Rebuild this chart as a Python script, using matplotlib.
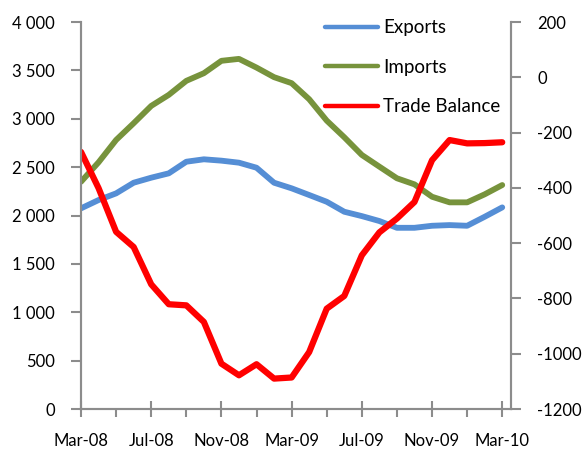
import numpy as np
import matplotlib
matplotlib.use('Agg')
import matplotlib.pyplot as plt
from matplotlib.ticker import FixedLocator, FixedFormatter

plt.rcParams['font.family'] = ['Lato', 'DejaVu Sans']

# monthly data Mar-08 .. Mar-10
months = ['Mar-08', 'Apr-08', 'May-08', 'Jun-08', 'Jul-08', 'Aug-08', 'Sep-08', 'Oct-08',
          'Nov-08', 'Dec-08', 'Jan-09', 'Feb-09', 'Mar-09', 'Apr-09', 'May-09', 'Jun-09',
          'Jul-09', 'Aug-09', 'Sep-09', 'Oct-09', 'Nov-09', 'Dec-09', 'Jan-10', 'Feb-10', 'Mar-10']
exports = [2074, 2160, 2229, 2339, 2391, 2436, 2556, 2581, 2567, 2546, 2494, 2339, 2281,
           2212, 2142, 2039, 1994, 1943, 1873, 1873, 1894, 1901, 1894, 1987, 2084]
imports = [2349, 2550, 2781, 2954, 3133, 3247, 3392, 3471, 3599, 3619, 3529, 3430, 3368,
           3202, 2981, 2809, 2626, 2505, 2385, 2322, 2194, 2136, 2136, 2219, 2315]
balance = [-270, -401, -559, -614, -749, -821, -825, -885, -1036, -1078, -1038, -1090, -1086,
           -994, -837, -791, -644, -561, -511, -451, -300, -227, -239, -238, -235]

left_ticks = [0, 500, 1000, 1500, 2000, 2500, 3000, 3500, 4000]
left_labels = ['0', '500', '1 000', '1 500', '2 000', '2 500', '3 000', '3 500', '4 000']
right_ticks = [-1200, -1000, -800, -600, -400, -200, 0, 200]

x = np.arange(len(months))
grey = '#8c8c8c'

fig = plt.figure(figsize=(5.85, 4.54), dpi=100)
ax = fig.add_axes([0.1385, 0.0991, 0.735, 0.8524])
ax2 = ax.twinx()

l1, = ax.plot(x, exports, color='#558ED5', lw=4.2, label='Exports', solid_capstyle='round')
l2, = ax.plot(x, imports, color='#77933C', lw=4.2, label='Imports', solid_capstyle='round')
l3, = ax2.plot(x, balance, color='#FF0000', lw=4.5, label='Trade Balance', solid_capstyle='round')

ax.set_xlim(0, 24.5)
ax.set_ylim(0, 4000)
ax2.set_ylim(-1200, 200)

ax.yaxis.set_major_locator(FixedLocator(left_ticks))
ax.yaxis.set_major_formatter(FixedFormatter(left_labels))
ax2.set_yticks(right_ticks)
ax2.set_yticklabels([str(v) for v in right_ticks])

major = list(range(0, 25, 4))
ax.set_xticks(major)
ax.set_xticklabels([months[i] for i in major])
ax.set_xticks(list(range(2, 24, 4)), minor=True)

for a in (ax, ax2):
    a.spines['top'].set_visible(False)
    for s in ('left', 'right', 'bottom'):
        a.spines[s].set_color(grey)
        a.spines[s].set_linewidth(1.5)
    a.tick_params(colors=grey, labelcolor='black', labelsize=12, width=1.5)

ax.tick_params(axis='y', length=7, pad=12)
ax2.tick_params(axis='y', length=7, pad=12)
ax.tick_params(axis='x', which='major', direction='inout', length=12, pad=11)
ax.tick_params(axis='x', which='minor', direction='out', length=6, width=1.5, colors=grey)

leg = ax2.legend(handles=[l1, l2, l3], loc='upper left', bbox_to_anchor=(0.5556, 0.958),
                 bbox_transform=fig.transFigure, frameon=False, fontsize=13.5,
                 handlelength=2.8, handletextpad=0.3, labelspacing=1.2,
                 borderpad=0, borderaxespad=0)
for ln in leg.get_lines():
    ln.set_linewidth(3.2)

fig.savefig('out.png', dpi=100)
